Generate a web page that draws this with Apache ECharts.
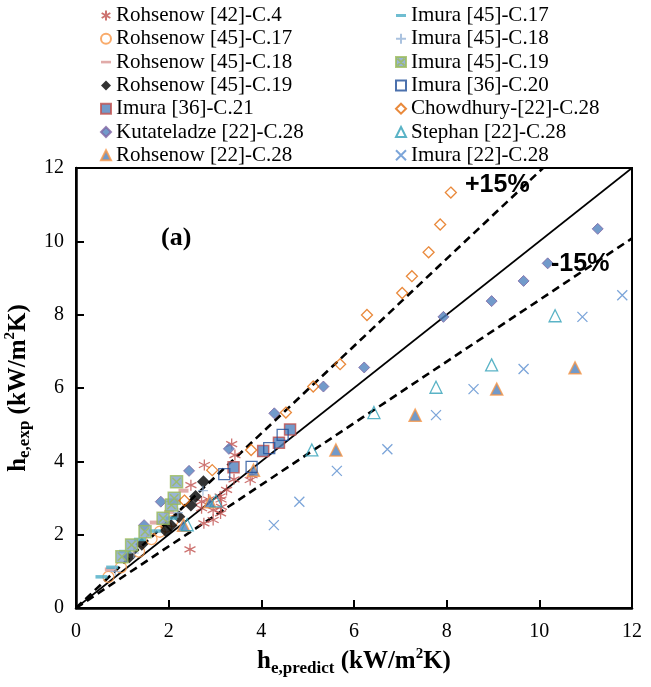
<!DOCTYPE html>
<html>
<head>
<meta charset="utf-8">
<script src="https://cdn.jsdelivr.net/npm/echarts@6/dist/echarts.min.js"></script>
<style>
html,body{margin:0;padding:0;background:#fff;}
#chart{width:651px;height:687px;}
</style>
</head>
<body>
<div id="chart"></div>
<script>
// ---------- data (x = h_e,predict, y = h_e,exp, kW/m2K) ----------
const rohsenow42_C4 = [[2.46,1.60],[2.76,2.31],[2.96,2.40],[3.12,2.58],[2.71,2.72],[2.96,2.67],[3.14,2.76],[2.86,2.96],[3.13,2.96],[3.11,3.04],[3.25,3.22],[2.71,2.90],[3.41,3.51],[3.76,3.49],[3.80,3.62],[2.48,3.35],[2.77,3.90],[3.43,4.17],[3.36,4.47]];
const rohsenow45_C17 = [[0.70,0.85],[0.97,1.11],[1.36,1.54],[1.63,1.88],[1.81,2.08],[1.95,2.22],[2.08,2.37]];
const rohsenow45_C18 = [[0.73,1.05],[1.70,2.33],[2.01,2.62],[2.32,3.20]];
const rohsenow45_C19 = [[1.15,1.40],[1.42,1.74],[1.94,2.11],[2.05,2.25],[2.22,2.49],[2.48,2.81],[2.58,3.04],[2.75,3.44]];
const imura36_C21 = [[3.40,3.84],[4.04,4.28],[4.38,4.51],[4.62,4.87]];
const kutateladze22_C28 = [[1.47,2.26],[1.83,2.90],[2.44,3.74],[3.30,4.34],[4.28,5.31],[5.34,6.04],[6.22,6.56],[7.93,7.94],[8.97,8.37],[9.66,8.92],[10.18,9.40],[11.26,10.34]];
const rohsenow22_C28 = [[2.32,2.26],[2.89,2.90],[3.83,3.76],[5.61,4.31],[7.32,5.26],[9.08,5.97],[10.77,6.55]];
const imura45_C17 = [[0.55,0.85],[0.78,1.11],[1.06,1.54],[1.38,1.87],[1.70,2.10],[2.06,2.45]];
const imura45_C18 = [[0.85,1.00],[1.25,1.50],[2.20,2.60],[2.74,3.20]];
const imura45_C19 = [[0.99,1.40],[1.20,1.72],[1.49,2.08],[1.88,2.45],[2.06,2.81],[2.12,2.99],[2.17,3.44]];
const imura36_C20 = [[3.20,3.65],[3.79,3.85],[4.17,4.36],[4.46,4.72]];
const chowdhury22_C28 = [[2.34,2.93],[2.94,3.76],[3.78,4.31],[4.53,5.33],[5.12,6.04],[5.70,6.65],[6.28,7.99],[7.04,8.59],[7.25,9.05],[7.61,9.70],[7.86,10.46],[8.09,11.33]];
const stephan22_C28 = [[2.40,2.27],[3.02,2.92],[5.09,4.31],[6.43,5.33],[7.77,6.02],[8.97,6.63],[10.34,7.97]];
const imura22_C28 = [[4.27,2.26],[4.82,2.90],[5.63,3.74],[6.72,4.33],[7.77,5.26],[8.58,5.97],[9.66,6.52],[10.93,7.94],[11.79,8.53]];

const parityLine = [[0,0],[12,12]];
const plus15Line = [[0,0],[10.08,12]];
const minus15Line = [[0,0],[12,10.08]];

const axisTicks = [0,2,4,6,8,10,12];
const leftLegendNames = ['Rohsenow [42]-C.4','Rohsenow [45]-C.17','Rohsenow [45]-C.18','Rohsenow [45]-C.19','Imura [36]-C.21','Kutateladze [22]-C.28','Rohsenow [22]-C.28'];
const rightLegendNames = ['Imura [45]-C.17','Imura [45]-C.18','Imura [45]-C.19','Imura [36]-C.20','Chowdhury-[22]-C.28','Stephan [22]-C.28','Imura [22]-C.28'];

// ---------- styles ----------
const SERIF = '"Liberation Serif", "Times New Roman", serif';
const SANS = '"Liberation Sans", Arial, sans-serif';
const ASTER = 'path://M5,0L5,10M0.67,2.5L9.33,7.5M0.67,7.5L9.33,2.5';
const XMARK = 'path://M0,0L10,10M10,0L0,10';
const PLUS = 'path://M5,0L5,10M0,5L10,5';
const BOXX = 'path://M0,0L10,0L10,10L0,10Z M1.5,1.5L8.5,8.5M8.5,1.5L1.5,8.5';
const DASH_ICON = 'path://M0,0L10,0L10,3L0,3Z';
const DASH_ICON2 = 'path://M0,0L10,0L10,2.6L0,2.6Z';

function sc(name, data, symbol, size, itemStyle, z){
  return {type:'scatter', name, data, symbol, symbolSize:size, itemStyle, z:z||3, emphasis:{disabled:true}};
}

const series = [
  {type:'line', data:parityLine, showSymbol:false, symbol:'none', silent:true, z:1,
   lineStyle:{color:'#000', width:1.6, type:'solid'}},
  {type:'line', data:plus15Line, showSymbol:false, symbol:'none', silent:true, z:1,
   lineStyle:{color:'#000', width:2.6, type:[8,5]}},
  {type:'line', data:minus15Line, showSymbol:false, symbol:'none', silent:true, z:1,
   lineStyle:{color:'#000', width:2.6, type:[8,5]}},
  sc('Rohsenow [42]-C.4', rohsenow42_C4, ASTER, 11, {color:'#C0504D', borderColor:'#C0504D', borderWidth:1.3}),
  sc('Rohsenow [45]-C.17', rohsenow45_C17, 'circle', 11, {color:'rgba(255,255,255,0)', borderColor:'#F79646', borderWidth:1.3}),
  sc('Rohsenow [45]-C.18', rohsenow45_C18, 'rect', [10,4], {color:'#D99694'}),
  sc('Rohsenow [45]-C.19', rohsenow45_C19, 'diamond', 13, {color:'#000'}),
  sc('Imura [36]-C.21', imura36_C21, 'rect', 11, {color:'#4F81BD', borderColor:'#C0504D', borderWidth:1.5}),
  sc('Kutateladze [22]-C.28', kutateladze22_C28, 'diamond', 11, {color:'#4F81BD', borderColor:'#8064A2', borderWidth:1}),
  sc('Rohsenow [22]-C.28', rohsenow22_C28, 'triangle', 12, {color:'#4F81BD', borderColor:'#F79646', borderWidth:1.5}),
  sc('Imura [45]-C.17', imura45_C17, 'rect', [12,3.5], {color:'#4BACC6'}),
  sc('Imura [45]-C.18', imura45_C18, PLUS, 10, {color:'#95B3D7', borderColor:'#95B3D7', borderWidth:1.2}),
  sc('Imura [45]-C.19', imura45_C19, BOXX, 12, {color:'#7FA2CC', borderColor:'#9BBB59', borderWidth:1.5}),
  sc('Imura [36]-C.20', imura36_C20, 'rect', 11, {color:'rgba(255,255,255,0)', borderColor:'#1F4E99', borderWidth:1.3}),
  sc('Chowdhury-[22]-C.28', chowdhury22_C28, 'diamond', 11, {color:'rgba(255,255,255,0)', borderColor:'#E46C0A', borderWidth:1.3}),
  sc('Stephan [22]-C.28', stephan22_C28, 'triangle', 12, {color:'rgba(255,255,255,0)', borderColor:'#31A0B8', borderWidth:1.3}),
  sc('Imura [22]-C.28', imura22_C28, XMARK, 10, {color:'#5B8FD0', borderColor:'#5B8FD0', borderWidth:1.3})
];

function legendData(names){
  return names.map(n => {
    if (n === 'Rohsenow [45]-C.18') return {name:n, icon:DASH_ICON2};
    if (n === 'Imura [45]-C.17') return {name:n, icon:DASH_ICON};
    return {name:n};
  });
}

const legendCommon = {
  orient:'vertical', top:5, padding:0, itemWidth:10, itemHeight:10, itemGap:2.3,
  symbolKeepAspect:true,
  textStyle:{fontFamily:SERIF, fontSize:21, color:'#000', lineHeight:21},
  selectedMode:false
};

const nameRich = {
  b:{fontFamily:SERIF, fontSize:25, fontWeight:'bold', color:'#000', lineHeight:30, verticalAlign:'middle'},
  s:{fontFamily:SERIF, fontSize:17, fontWeight:'bold', color:'#000', lineHeight:17, verticalAlign:'bottom'},
  p:{fontFamily:SERIF, fontSize:15, fontWeight:'bold', color:'#000', lineHeight:15, verticalAlign:'top'}
};

const chart = echarts.init(document.getElementById('chart'), null, {renderer:'canvas'});
chart.setOption({
  animation:false,
  backgroundColor:'#fff',
  legend:[
    Object.assign({}, legendCommon, {left:100, data:legendData(leftLegendNames)}),
    Object.assign({}, legendCommon, {left:395, data:legendData(rightLegendNames)})
  ],
  grid:{left:76, right:19, top:168, bottom:79, show:true, borderColor:'#000', borderWidth:2,
        containLabel:false, outerBoundsMode:'none'},
  xAxis:{
    type:'value', min:axisTicks[0], max:axisTicks[axisTicks.length-1], interval:2,
    axisLine:{show:true, onZero:false, lineStyle:{color:'#000', width:2.5}},
    axisTick:{show:true, inside:true, length:8, lineStyle:{color:'#000', width:2}},
    splitLine:{show:false},
    axisLabel:{fontFamily:SERIF, fontSize:20, color:'#000', margin:14},
    name:'{b|h}{s|e,predict}{b| (kW/m}{p|2}{b|K)}',
    nameLocation:'middle', nameGap:37,
    nameTextStyle:{rich:nameRich}
  },
  yAxis:{
    type:'value', min:axisTicks[0], max:axisTicks[axisTicks.length-1], interval:2,
    axisLine:{show:true, onZero:false, lineStyle:{color:'#000', width:2.5}},
    axisTick:{show:true, inside:true, length:8, lineStyle:{color:'#000', width:2}},
    splitLine:{show:false},
    axisLabel:{fontFamily:SERIF, fontSize:20, color:'#000', margin:12},
    name:'{b|h}{s|e,exp}{b| (kW/m}{p|2}{b|K)}',
    nameLocation:'middle', nameGap:33,
    nameTextStyle:{rich:nameRich}
  },
  graphic:[
    {type:'text', left:465, top:173, z:10, style:{text:'+15%', font:'bold 25px ' + SANS, fill:'#000'}},
    {type:'text', left:551, top:252, z:10, style:{text:'-15%', font:'bold 25px ' + SANS, fill:'#000'}},
    {type:'text', left:161, top:225, z:10, style:{text:'(a)', font:'bold 26px ' + SERIF, fill:'#000'}}
  ],
  series
});
</script>
</body>
</html>
